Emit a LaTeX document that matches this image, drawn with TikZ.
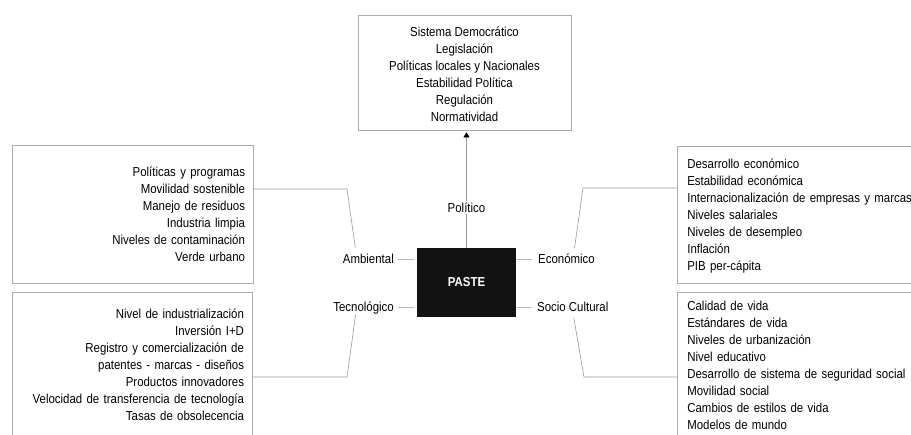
\documentclass[tikz,border=0pt]{standalone}
\usepackage{fontspec}
\setmainfont{Liberation Sans}[FakeStretch=0.88]
\usepackage{tikz}
\usetikzlibrary{arrows.meta,positioning,calc}

\begin{document}
\begin{tikzpicture}[x=1pt, y=-1pt,
	font=\fontsize{13}{17}\selectfont,
	area/.style={rectangle, draw=gray!65, line width=0.7pt, inner ysep=0pt},
	lbl/.style={inner xsep=4pt, inner ysep=2pt, text height=9.5pt, text depth=0pt},
	link/.style={draw=gray!80, line width=0.6pt},
	stub/.style={draw=gray!55, line width=0.7pt, shorten <=0pt, shorten >=3pt}]
	\useasboundingbox (0,0) rectangle (911,435);
	\clip (0,0) rectangle (911,435);

	\node (paste) [rectangle, fill=black!93, text=white, font=\fontsize{13}{17}\selectfont\bfseries,
		minimum width=99pt, minimum height=69pt] at (466.5,282.5) {PASTE};

	\node (politico) [lbl] at (466.5,207.5) {Político};
	\node (ambiental) [lbl, anchor=east] at (398,259) {Ambiental};
	\node (economico) [lbl, anchor=west] at (534,259) {Económico};
	\node (tecnologico) [lbl, anchor=east] at (398,307) {Tecnológico};
	\node (socio) [lbl, anchor=west] at (533,307) {Socio Cultural};

	\node (polbox) [area, align=center, minimum width=213pt, minimum height=115pt] at (464.5,72.5)
		{\rule{0pt}{14pt}Sistema Democrático\\Legislación\\Políticas locales y Nacionales\\Estabilidad Política\\Regulación\\Normatividad};
	\node (ambbox) [area, align=right, text width=225pt, inner xsep=8pt, minimum height=138pt] at (132.5,214)
		{Políticas y programas\\Movilidad sostenible\\Manejo de residuos\\Industria limpia\\Niveles de contaminación\\Verde urbano};
	\node (tecbox) [area, align=right, text width=224pt, inner xsep=8pt, minimum height=145pt] at (132,364.5)
		{Nivel de industrialización\\Inversión I+D\\Registro y comercialización de\\patentes - marcas - diseños\\Productos innovadores\\Velocidad de transferencia de tecnología\\Tasas de obsolecencia};
	\node (ecobox) [area, anchor=west, align=left, text width=270pt, inner xsep=10pt, minimum height=137pt] at (677,214.5)
		{\rule{0pt}{12pt}Desarrollo económico\\Estabilidad económica\\Internacionalización de empresas y marcas\\Niveles salariales\\Niveles de desempleo\\Inflación\\PIB per-cápita};
	\node (socbox) [area, anchor=west, align=left, text width=270pt, inner xsep=10pt, minimum height=147pt] at (677,365.5)
		{Calidad de vida\\Estándares de vida\\Niveles de urbanización\\Nivel educativo\\Desarrollo de sistema de seguridad social\\Movilidad social\\Cambios de estilos de vida\\Modelos de mundo};

	\draw [link, -{Triangle[length=5pt,width=6pt,black]}, shorten >=2pt] (politico.north) -- (politico.north |- polbox.south);
	\draw [link] (politico.south) -- (paste.north);

	\draw [stub] (ambiental.east) -- (ambiental.east -| paste.west);
	\draw [stub] (tecnologico.east) -- (tecnologico.east -| paste.west);
	\draw [stub, shorten >=1pt, shorten <=2pt] (economico.west) -- (economico.west -| paste.east);
	\draw [stub, shorten >=1pt, shorten <=2pt] (socio.west) -- (socio.west -| paste.east);

	\coordinate (ambk) at (347,189);
	\coordinate (ecok) at (583,188);
	\coordinate (teck) at (347,377);
	\coordinate (sock) at (584,377);
	\draw [link] (ambk -| ambbox.east) -- (ambk) -- ([xshift=-13pt,yshift=4pt]ambiental.north);
	\draw [link] (ecok -| ecobox.west) -- (ecok) -- ([xshift=8pt,yshift=4pt]economico.north);
	\draw [link] (teck -| tecbox.east) -- (teck) -- ([xshift=-8pt,yshift=-1pt]tecnologico.south);
	\draw [link] (sock -| socbox.west) -- (sock) -- ([xshift=1pt,yshift=-4pt]socio.south);
\end{tikzpicture}
\end{document}
